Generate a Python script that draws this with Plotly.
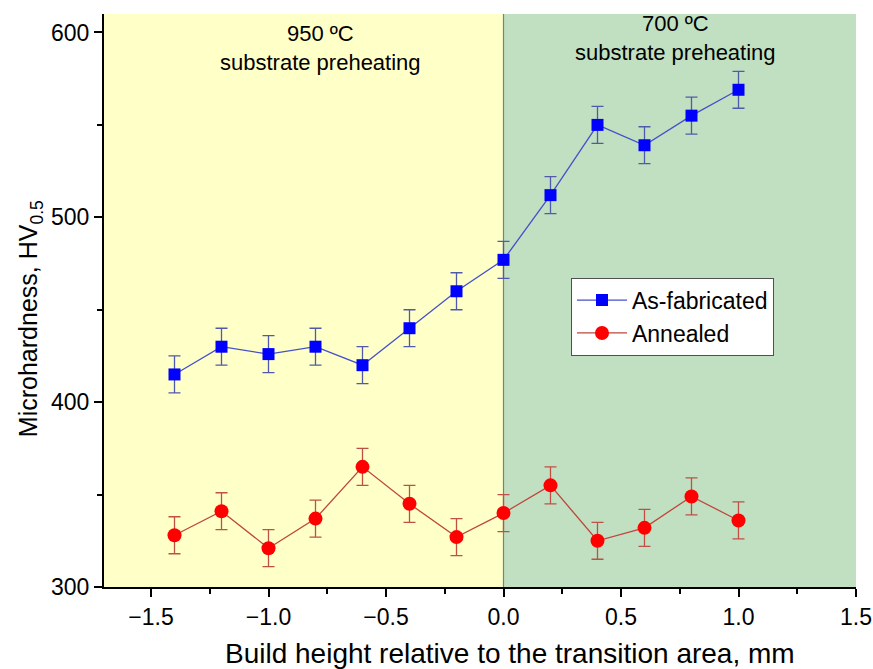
import plotly.graph_objects as go

x_pos = [-1.4, -1.2, -1.0, -0.8, -0.6, -0.4, -0.2, 0.0, 0.2, 0.4, 0.6, 0.8, 1.0]
as_fab = [415, 430, 426, 430, 420, 440, 460, 477, 512, 550, 539, 555, 569]
as_fab_err = [10, 10, 10, 10, 10, 10, 10, 10, 10, 10, 10, 10, 10]
annealed = [328, 341, 321, 337, 365, 345, 327, 340, 355, 325, 332, 349, 336]
annealed_err = [10, 10, 10, 10, 10, 10, 10, 10, 10, 10, 10, 10, 10]

region_bounds = [-1.7, 0.0, 1.5]
region_colors = ["rgb(255,255,200)", "rgb(193,224,193)"]
region_labels = ["950 ºC<br>substrate preheating", "700 ºC<br>substrate preheating"]
region_label_x = [-0.78, 0.73]

x_title = "Build height relative to the transition area, mm"
y_title = "Microhardness, HV<sub>0.5</sub>"

FONT = "Liberation Sans, Arial, sans-serif"

fig = go.Figure()

fig.add_trace(go.Scatter(
    x=x_pos, y=as_fab, name="As-fabricated", mode="lines+markers",
    line=dict(color="rgb(70,80,200)", width=1.3),
    marker=dict(symbol="square", size=12, color="rgb(0,0,255)"),
    error_y=dict(type="data", array=as_fab_err, visible=True,
                 color="rgb(80,90,170)", thickness=1.3, width=6),
))
fig.add_trace(go.Scatter(
    x=x_pos, y=annealed, name="Annealed", mode="lines+markers",
    line=dict(color="rgb(190,70,60)", width=1.3),
    marker=dict(symbol="circle", size=14, color="rgb(255,0,0)"),
    error_y=dict(type="data", array=annealed_err, visible=True,
                 color="rgb(190,80,70)", thickness=1.3, width=6),
))

shapes = []
for i in range(2):
    shapes.append(dict(type="rect", xref="x", yref="paper",
                       x0=region_bounds[i], x1=region_bounds[i + 1], y0=0, y1=1,
                       fillcolor=region_colors[i], line=dict(width=0), layer="below"))
shapes.append(dict(type="line", xref="x", yref="paper", x0=0, x1=0, y0=0, y1=1,
                   line=dict(color="rgb(120,130,120)", width=1.2), layer="below"))

annotations = []
ys = [0.992, 1.008]
for i in range(2):
    annotations.append(dict(x=region_label_x[i], y=ys[i], xref="x", yref="paper",
                            text=region_labels[i], showarrow=False,
                            font=dict(family=FONT, size=22, color="black"),
                            yanchor="top", align="center"))
annotations.append(dict(x=0.54, y=-0.1165, xref="paper", yref="paper",
                        text=x_title, showarrow=False,
                        font=dict(family=FONT, size=28, color="black"),
                        xanchor="center", yanchor="middle"))
annotations.append(dict(x=-0.098, y=0.468, xref="paper", yref="paper",
                        text=y_title, showarrow=False, textangle=-90,
                        font=dict(family=FONT, size=25, color="black"),
                        xanchor="center", yanchor="middle"))

fig.update_layout(
    width=873, height=669,
    margin=dict(l=104, r=17, t=14, b=82),
    paper_bgcolor="white", plot_bgcolor="white",
    font=dict(family=FONT, color="black"),
    shapes=shapes, annotations=annotations,
    showlegend=True,
    legend=dict(x=0.621, y=0.540, xanchor="left", yanchor="top",
                bgcolor="white", bordercolor="rgb(80,80,80)", borderwidth=1,
                font=dict(family=FONT, size=23, color="black"),
                tracegroupgap=0, itemwidth=50),
)

fig.update_xaxes(
    range=[-1.7, 1.5], dtick=0.5, tick0=0, tickformat=".1f",
    showgrid=False, zeroline=False, automargin=False,
    showline=True, linecolor="black", linewidth=2,
    ticks="outside", ticklen=8, tickwidth=1.5, tickcolor="black",
    minor=dict(dtick=0.25, tick0=0, ticks="outside", ticklen=5, tickwidth=1.5, tickcolor="black"),
    tickfont=dict(family=FONT, size=23),
    ticklabeloverflow="allow",
)
fig.update_yaxes(
    range=[300, 610], dtick=100, tick0=0,
    showgrid=False, zeroline=False, automargin=False,
    showline=True, linecolor="black", linewidth=2,
    ticks="outside", ticklen=8, tickwidth=1.5, tickcolor="black",
    minor=dict(dtick=50, tick0=0, ticks="outside", ticklen=5, tickwidth=1.5, tickcolor="black"),
    tickfont=dict(family=FONT, size=23),
)

fig.write_html("out.html", config={"displayModeBar": False},
               post_script="document.body.style.margin='0';document.body.style.overflow='hidden';")
